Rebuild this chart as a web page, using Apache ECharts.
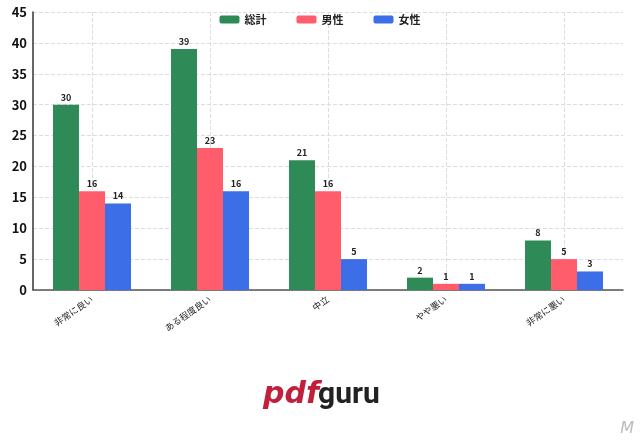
<!DOCTYPE html>
<html><head><meta charset="utf-8">
<script src="https://cdn.jsdelivr.net/npm/echarts@6/dist/echarts.min.js"></script>
<style>html,body{margin:0;background:#fff}#c{width:640px;height:441px}</style>
</head><body><div id="c"></div>
<script>
var categories = ['非常に良い', 'ある程度良い', '中立', 'やや悪い', '非常に悪い'];
var total = [30, 39, 21, 2, 8];
var male = [16, 23, 16, 1, 5];
var female = [14, 16, 5, 1, 3];

var lbl = { show: true, position: 'top', fontSize: 9, fontWeight: 'bold', color: '#222', distance: 3 };
function bar(name, data, color) {
    return { name: name, type: 'bar', data: data, barWidth: 26, barGap: '0%', itemStyle: { color: color }, label: lbl };
}
var chart = echarts.init(document.getElementById('c'));
chart.setOption({
    animation: false,
    textStyle: { fontFamily: '"Noto Sans CJK JP", "DejaVu Sans", sans-serif' },
    legend: {
        top: 9, left: 'center', itemWidth: 20, itemHeight: 8, itemGap: 30,
        textStyle: { fontSize: 11, fontWeight: 'bold', color: '#222' }
    },
    grid: { left: 33, right: 17, top: 12, bottom: 151 },
    xAxis: {
        type: 'category', data: categories,
        axisLine: { lineStyle: { color: '#555', width: 1.5 } },
        axisTick: { show: false },
        axisLabel: { rotate: 35, fontSize: 9, color: '#222', margin: 8, interval: 0 },
        splitLine: { show: true, alignWithLabel: true, lineStyle: { type: 'dashed', color: '#ddd' } }
    },
    yAxis: {
        type: 'value', min: 0, max: 45, interval: 5,
        axisLine: { show: true, lineStyle: { color: '#333', width: 1.5 } },
        axisLabel: { fontSize: 13, fontWeight: 'bold', color: '#111', margin: 6 },
        splitLine: { lineStyle: { type: 'dashed', color: '#ddd' } }
    },
    series: [bar('総計', total, '#2e8b57'), bar('男性', male, '#ff5c6c'), bar('女性', female, '#3c6ee8')],
    graphic: [
        { type: 'text', left: 263, top: 380, style: { text: 'pdf', fontSize: 30, fontStyle: 'italic', fontWeight: 'bold', fill: '#c0203c', fontFamily: 'DejaVu Sans' } },
        { type: 'text', left: 318, top: 380, style: { text: 'guru', fontSize: 30, fontWeight: 'bold', fill: '#222', fontFamily: 'Roboto' } },
        { type: 'text', right: 6, bottom: 4, style: { text: 'M', fontSize: 16, fontStyle: 'italic', fill: '#bbb', fontFamily: 'DejaVu Sans' } }
    ]
});
</script></body></html>
